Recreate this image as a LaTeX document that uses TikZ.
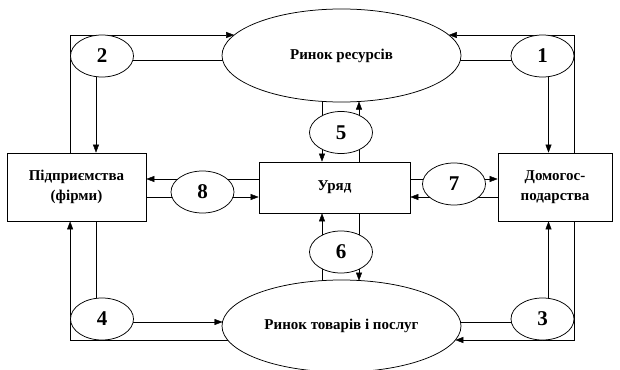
\documentclass[tikz,border=0pt]{standalone}
\usepackage{fontspec}
\setmainfont{Liberation Serif}
\usetikzlibrary{shapes.geometric,arrows.meta,backgrounds}
\begin{document}
\begin{tikzpicture}[x=1pt,y=-1pt,line width=0.75pt,
  lbl/.style={font=\bfseries\fontsize{15}{20}\selectfont},
  boxn/.style={draw,fill=white,rectangle,inner sep=0pt,align=center,lbl},
  mkt/.style={draw,fill=white,ellipse,inner sep=0pt,minimum width=239pt,minimum height=93pt,lbl},
  num/.style={draw,fill=white,ellipse,inner sep=0pt,minimum width=63pt,minimum height=42pt,font=\bfseries\fontsize{21}{24}\selectfont},
  arr/.style={-{Triangle[length=8pt,width=6pt]}}]
\useasboundingbox (0,0) rectangle (620,369);
% nodes
\node[mkt] (top) at (341.5,55.5) {Ринок ресурсів};
\node[mkt,minimum height=92pt] (bot) at (341.5,326) {Ринок товарів і послуг};
\node[boxn,minimum width=139pt,minimum height=68pt] (firm) at (76.5,187) {Підприємства\\(фірми)};
\node[boxn,minimum width=114pt,minimum height=68pt] (hh) at (555,187) {Домогос-\\подарства};
\node[boxn,minimum width=151pt,minimum height=51pt] (gov) at (334.5,187.5) {Уряд};
\node[num] (n1) at (542.5,56) {1};
\node[num] (n2) at (102,56) {2};
\node[num] (n3) at (542.5,319) {3};
\node[num] (n4) at (102,319) {4};
\node[num] (n5) at (341,132.5) {5};
\node[num] (n6) at (341,252) {6};
\node[num] (n7) at (454,184) {7};
\node[num] (n8) at (202.5,192) {8};
\begin{scope}[on background layer]
% top-left
\coordinate (tl) at (234.2,35);
\draw[arr] (firm.north -| n2.west) |- (tl);
\draw ([yshift=-4pt]n2.center) -- ([yshift=-4pt]n2.center -| top.center);
\coordinate (x2) at ([xshift=-6pt]n2.center);
\draw[arr] (x2) -- (x2 |- firm.north);
% top-right
\coordinate (tr) at (448.8,35);
\draw[arr] (hh.north -| n1.east) |- (tr);
\draw ([yshift=-4pt]n1.center) -- ([yshift=-4pt]n1.center -| top.center);
\coordinate (x1) at ([xshift=6pt]n1.center);
\draw[arr] (x1) -- (x1 |- hh.north);
% bottom-left
\coordinate (bl) at (227.7,340);
\draw[arr] (bl) -| (firm.south -| n4.west);
\coordinate (bl2) at (222.5,322);
\draw[arr] ([yshift=-3pt]n4.center) -- (bl2);
\coordinate (x4) at ([xshift=-6pt]n4.center);
\draw (x4 |- firm.south) -- (x4);
% bottom-right
\coordinate (br) at (455.3,340);
\draw[arr] (hh.south -| n3.east) |- (br);
\draw ([yshift=-3pt]n3.center) -- ([yshift=-3pt]n3.center -| bot.center);
\coordinate (x3) at ([xshift=6pt]n3.center);
\draw[arr] (x3) -- (x3 |- hh.south);
% centre verticals
\coordinate (c5a) at (322,101.4);
\coordinate (c5b) at (359,101.5);
\draw[arr] (c5a) -- (c5a |- gov.north);
\draw[arr] (c5b |- gov.north) -- (c5b);
\coordinate (c6a) at (322,280.6);
\coordinate (c6b) at (359,280.6);
\draw[arr] (c6a) -- (c6a |- gov.south);
\draw[arr] (c6b |- gov.south) -- (c6b);
% centre horizontals
\coordinate (h1) at (0,179);
\coordinate (h2) at (0,197);
\draw[arr] (gov.west |- h1) -- (firm.east |- h1);
\draw[arr] (firm.east |- h2) -- (gov.west |- h2);
\draw[arr] (gov.east |- h1) -- (hh.west |- h1);
\draw[arr] (hh.west |- h2) -- (gov.east |- h2);
\end{scope}
\end{tikzpicture}
\end{document}
